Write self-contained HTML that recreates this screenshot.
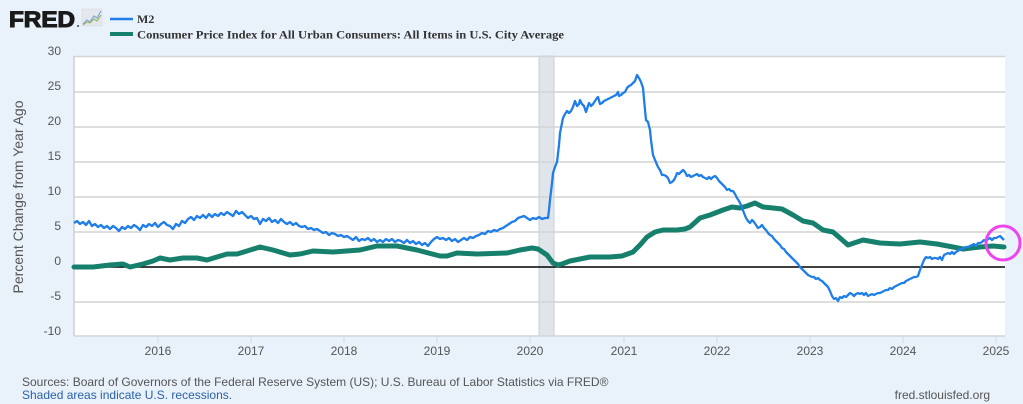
<!DOCTYPE html>
<html><head><meta charset="utf-8"><style>
html,body{margin:0;padding:0;background:#e9f1fa;}
svg{display:block;}
</style></head><body>
<svg width="1023" height="404" viewBox="0 0 1023 404" xmlns="http://www.w3.org/2000/svg">
<rect x="0" y="0" width="1023" height="404" fill="#e9f1fa"/>
<!-- logo -->
<text x="9" y="27" font-family="Liberation Sans, sans-serif" font-weight="bold" font-size="22" fill="#1a1a1a" stroke="#1a1a1a" stroke-width="1.1" textLength="66" lengthAdjust="spacingAndGlyphs">FRED</text>
<circle cx="78" cy="26" r="1" fill="#444"/>
<rect x="82" y="9" width="20" height="17" fill="#e4e8ec" stroke="#d5d9de" stroke-width="0.5"/>
<polyline points="83,24 87,20 90,22 94,16 97,18 101,11" fill="none" stroke="#7fa6d6" stroke-width="1.2"/>
<polyline points="83,25 87,22 90,23 94,19 97,21 101,15" fill="none" stroke="#9cb86a" stroke-width="1.2"/>
<!-- legend -->
<line x1="110" y1="19" x2="133" y2="19" stroke="#1f7ee8" stroke-width="2.5"/>
<text x="137" y="23" font-family="Liberation Serif, serif" font-weight="bold" font-size="12" fill="#333">M2</text>
<line x1="110" y1="34" x2="133" y2="34" stroke="#17806d" stroke-width="4"/>
<text x="137" y="38.5" font-family="Liberation Serif, serif" font-weight="bold" font-size="12" fill="#333" textLength="427" lengthAdjust="spacingAndGlyphs">Consumer Price Index for All Urban Consumers: All Items in U.S. City Average</text>
<!-- plot area -->
<rect x="74" y="56" width="931" height="280" fill="#ffffff"/>
<!-- recession -->
<rect x="539" y="56" width="15" height="280" fill="#e0e5eb" stroke="#c9ced5" stroke-width="1"/>
<!-- gridlines -->
<g stroke="#d4d4d4" stroke-width="1.5">
<line x1="74" y1="56.5" x2="1005" y2="56.5"/>
<line x1="74" y1="92" x2="1005" y2="92"/>
<line x1="74" y1="127" x2="1005" y2="127"/>
<line x1="74" y1="162" x2="1005" y2="162"/>
<line x1="74" y1="197" x2="1005" y2="197"/>
<line x1="74" y1="232" x2="1005" y2="232"/>
<line x1="74" y1="302" x2="1005" y2="302"/>
<line x1="74" y1="336" x2="1005" y2="336"/>
</g>
<line x1="74" y1="56" x2="74" y2="336" stroke="#cfcfcf" stroke-width="1.5"/>
<!-- x ticks -->
<g stroke="#cfd8e2" stroke-width="1">
<line x1="158" y1="336" x2="158" y2="343"/>
<line x1="251" y1="336" x2="251" y2="343"/>
<line x1="344" y1="336" x2="344" y2="343"/>
<line x1="437" y1="336" x2="437" y2="343"/>
<line x1="530" y1="336" x2="530" y2="343"/>
<line x1="624" y1="336" x2="624" y2="343"/>
<line x1="717" y1="336" x2="717" y2="343"/>
<line x1="810" y1="336" x2="810" y2="343"/>
<line x1="903" y1="336" x2="903" y2="343"/>
<line x1="996" y1="336" x2="996" y2="343"/>
</g>
<!-- zero line -->
<line x1="74" y1="267" x2="1005" y2="267" stroke="#000" stroke-width="1.5"/>
<!-- CPI -->
<polyline fill="none" stroke="#17806d" stroke-width="5" stroke-linejoin="round" stroke-linecap="round" points="74,267 93,267 110,265 123,264 130,267 143,264 153,261 160,258 170,260 183,258 197,258 207,260 217,257 227,254 237,254 247,251 260,247 273,250 290,255 300,254 313,251 333,252 360,250 377,246 397,246 417,250 440,256 447,256 457,253 477,254 507,253 520,250 532,248 538,249 547,255 553,263 558,265 562,264 570,261 590,257 610,257 622,256 633,252 640,245 647,237 655,232 663,230 677,230 685,229 690,227 700,218 710,215 723,210 732,207 740,208 747,206 755,203 763,207 773,208 782,209 793,215 803,221 813,223 823,230 833,232 840,238 848,245 863,240 880,243 900,244 920,242 937,244 953,247 963,249 980,247 993,246 1004,247"/>
<!-- M2 -->
<polyline fill="none" stroke="#1f7ee8" stroke-width="2.3" stroke-linejoin="round" points="74,223 77,221 80,224 83,222 86,225 89,221 92,226 95,224 98,227 101,225 104,228 107,226 110,229 113,226 116,228 119,231 122,227 125,229 128,226 131,228 134,225 137,227 140,230 143,225 146,227 149,224 152,226 155,223 158,227 161,224 164,222 167,225 170,226 173,229 176,224 179,226 182,221 185,223 188,219 191,217 194,220 197,216 200,218 203,215 206,218 209,214 212,217 215,214 218,216 221,213 224,215 227,212 230,214 233,216 236,211 239,214 242,212 245,215 248,218 251,216 254,219 257,218 260,224 263,219 266,221 269,218 272,222 275,220 278,223 281,219 284,222 287,224 290,222 293,225 296,223 299,226 302,227 305,226 308,229 311,228 314,230 317,229 320,231 323,233 326,232 329,235 332,233 335,234 338,236 341,235 344,237 347,236 350,238 353,240 356,237 359,241 362,239 365,240 368,238 371,241 374,239 377,242 380,240 383,242 386,239 389,241 392,239 395,242 398,240 401,241 404,243 407,240 410,243 413,241 416,244 419,242 422,245 425,243 428,246 431,242 434,239 437,237 440,239 443,238 446,240 449,238 452,241 455,239 458,242 461,240 464,238 467,240 470,237 473,238 476,236 479,235 482,233 485,234 488,231 491,232 494,230 497,231 500,229 503,228 506,226 509,224 512,222 515,221 518,218 521,217 524,216 527,218 530,220 533,218 536,219 539,217 542,219 545,218 548,218 549,210 550,200 552,183 553,173 555,167 557,162 559,145 560,133 562,123 563,118 565,114 567,111 569,113 571,111 573,107 575,101 577,106 579,104 580,100 582,104 584,106 586,112 588,106 589,103 591,106 593,104 595,101 597,98 598,97 600,104 602,103 604,101 606,100 608,99 610,98 612,97 614,96 616,95 618,92 619,96 621,95 623,93 625,92 627,88 629,86 631,85 633,83 635,81 637,75 639,78 641,82 643,88 645,110 646,120 648,122 650,130 651,140 653,155 655,160 658,167 660,170 662,175 664,175 666,176 668,178 670,183 672,182 674,180 676,176 677,173 679,174 681,172 683,170 685,172 687,176 689,175 691,177 693,176 695,175 697,174 699,176 701,175 703,177 705,178 707,179 709,177 711,179 713,177 715,176 717,178 719,181 721,183 723,185 725,187 727,190 729,189 731,191 733,191 735,194 737,198 739,201 741,205 742,208 744,213 746,218 748,221 750,223 752,220 754,222 756,225 758,228 760,227 762,225 764,228 766,230 768,233 770,235 772,236 774,239 776,241 778,243 780,245 782,248 784,249 786,252 788,254 790,256 792,258 794,260 796,262 798,264 800,267 802,269 804,271 806,273 808,275 810,276 812,277 814,277 816,279 818,278 820,280 822,281 824,283 826,285 828,287 830,291 832,296 834,299 836,298 838,301 840,297 842,298 844,296 846,297 848,295 850,293 852,294 854,296 856,294 858,293 860,294 862,293 864,295 866,293 868,296 870,295 872,294 874,295 876,294 878,293 880,293 882,292 884,291 886,290 888,290 890,288 892,289 894,287 896,286 898,285 900,284 902,283 904,283 906,281 908,280 910,279 912,278 914,277 916,277 918,276 920,270 922,265 924,260 926,257 928,258 930,257 932,259 934,258 936,258 938,259 940,257 942,260 944,255 946,254 948,253 950,254 952,252 954,254 956,252 958,251 960,249 962,249 964,248 966,247 968,247 970,246 972,245 974,244 976,246 978,243 980,243 982,242 984,240 986,241 988,239 990,238 992,240 994,238 996,238 998,237 1000,236 1002,238 1004,240"/>
<!-- highlight circle -->
<circle cx="1003" cy="243" r="17" fill="none" stroke="#ee44ee" stroke-width="3"/>
<!-- y tick labels -->
<g font-family="Liberation Sans, sans-serif" font-size="12" fill="#555" text-anchor="end">
<text x="61" y="55">30</text>
<text x="61" y="90">25</text>
<text x="61" y="125">20</text>
<text x="61" y="160">15</text>
<text x="61" y="195">10</text>
<text x="61" y="230">5</text>
<text x="61" y="265">0</text>
<text x="61" y="300">-5</text>
<text x="61" y="335">-10</text>
</g>
<text transform="translate(23,197) rotate(-90)" text-anchor="middle" font-family="Liberation Sans, sans-serif" font-size="14" fill="#555">Percent Change from Year Ago</text>
<!-- x labels -->
<g font-family="Liberation Sans, sans-serif" font-size="12" fill="#555" text-anchor="middle">
<text x="158" y="355">2016</text>
<text x="251" y="355">2017</text>
<text x="344" y="355">2018</text>
<text x="437" y="355">2019</text>
<text x="530" y="355">2020</text>
<text x="624" y="355">2021</text>
<text x="717" y="355">2022</text>
<text x="810" y="355">2023</text>
<text x="903" y="355">2024</text>
<text x="996" y="355">2025</text>
</g>
<!-- footer -->
<text x="22" y="386" font-family="Liberation Sans, sans-serif" font-size="12" fill="#555">Sources: Board of Governors of the Federal Reserve System (US); U.S. Bureau of Labor Statistics via FRED®</text>
<text x="22" y="399" font-family="Liberation Sans, sans-serif" font-size="12" fill="#2b62a8">Shaded areas indicate U.S. recessions.</text>
<text x="990" y="399" text-anchor="end" font-family="Liberation Sans, sans-serif" font-size="12" fill="#555">fred.stlouisfed.org</text>
</svg>
</body></html>
